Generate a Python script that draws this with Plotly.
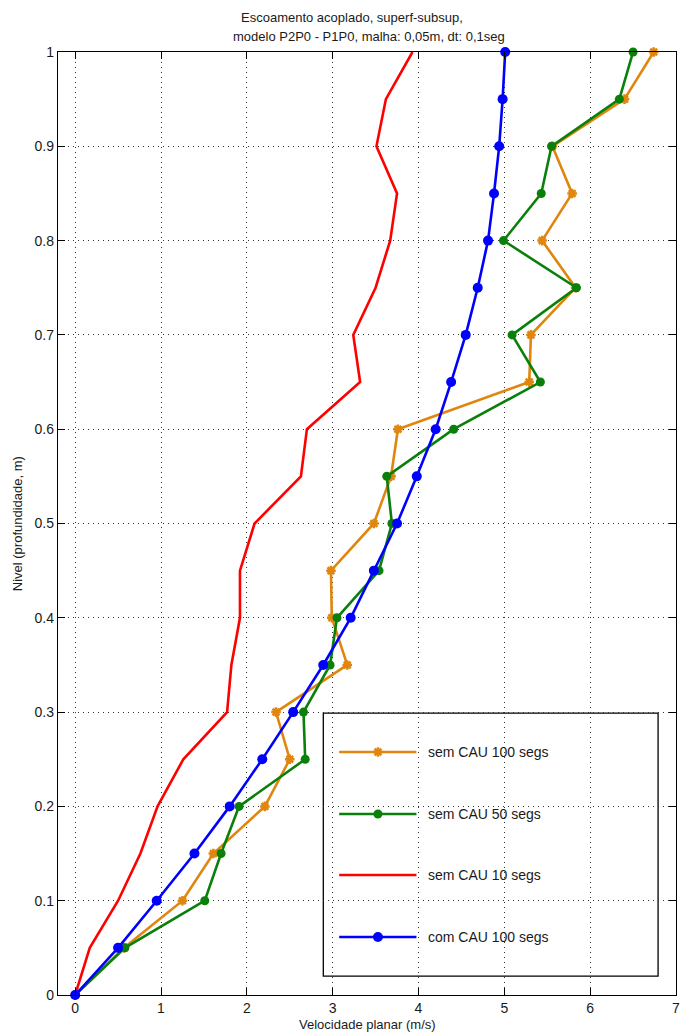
import plotly.graph_objects as go

# Depth levels (m)
nivel = [0.00, 0.05, 0.10, 0.15, 0.20, 0.25, 0.30, 0.35, 0.40, 0.45, 0.50,
         0.55, 0.60, 0.65, 0.70, 0.75, 0.80, 0.85, 0.90, 0.95, 1.00]

# Planar velocity (m/s) for each run
sem_cau_100 = [0.00, 0.57, 1.25, 1.61, 2.21, 2.50, 2.34, 3.17, 2.99, 2.98, 3.48,
               3.68, 3.76, 5.29, 5.31, 5.83, 5.44, 5.79, 5.56, 6.40, 6.74]
sem_cau_50 = [0.00, 0.58, 1.51, 1.70, 1.91, 2.68, 2.66, 2.97, 3.05, 3.54, 3.69,
              3.63, 4.41, 5.42, 5.09, 5.84, 4.99, 5.43, 5.55, 6.34, 6.50]
sem_cau_10 = [0.00, 0.17, 0.50, 0.76, 0.96, 1.26, 1.77, 1.82, 1.92, 1.92, 2.09,
              2.63, 2.70, 3.32, 3.24, 3.50, 3.67, 3.75, 3.51, 3.62, 3.93]
com_cau_100 = [0.00, 0.50, 0.95, 1.39, 1.80, 2.18, 2.54, 2.89, 3.21, 3.48, 3.75,
               3.98, 4.20, 4.38, 4.55, 4.69, 4.81, 4.88, 4.94, 4.98, 5.01]

series_names = ["sem CAU 100 segs", "sem CAU 50 segs", "sem CAU 10 segs", "com CAU 100 segs"]
series_values = [sem_cau_100, sem_cau_50, sem_cau_10, com_cau_100]

ORANGE = "#E0860F"
GREEN = "#0A800A"
RED = "#FF0000"
BLUE = "#0000FF"
colors = [ORANGE, GREEN, RED, BLUE]
markers = [
    dict(symbol="asterisk-open", size=8, color=ORANGE, line=dict(color=ORANGE, width=2.5)),
    dict(symbol="circle", size=9, color=GREEN, line=dict(color=GREEN, width=0)),
    None,
    dict(symbol="circle", size=10, color=BLUE, line=dict(color=BLUE, width=0)),
]

FONT = "Liberation Sans, Arial, Helvetica, sans-serif"
TXT = "#1a1a1a"

fig = go.Figure()

for name, vals, col, mk in zip(series_names, series_values, colors, markers):
    fig.add_trace(go.Scatter(
        x=vals, y=nivel, name=name,
        mode="lines+markers" if mk else "lines",
        line=dict(color=col, width=2.6),
        marker=mk if mk else None,
        showlegend=False, cliponaxis=False,
    ))

# Hand-drawn legend box (overlay axis spanning the plot area, range 0..1)
box_x0, box_x1 = 0.4293, 0.971
box_y0, box_y1 = 0.0201, 0.299
entry_y = [0.2577, 0.1919, 0.1273, 0.0615]
sample_x = [0.455, 0.580]
marker_x = 0.5177
text_x = 0.595

shapes = [dict(type="rect", xref="paper", yref="paper",
               x0=box_x0, x1=box_x1, y0=box_y0, y1=box_y1,
               line=dict(color="black", width=1.3), fillcolor="white", layer="between")]
fig.update_layout(shapes=shapes)

for name, col, mk, ey in zip(series_names, colors, markers, entry_y):
    fig.add_trace(go.Scatter(
        x=sample_x, y=[ey, ey], mode="lines",
        line=dict(color=col, width=2.6), xaxis="x2", yaxis="y2",
        showlegend=False, hoverinfo="skip",
    ))
    if mk:
        fig.add_trace(go.Scatter(
            x=[marker_x], y=[ey], mode="markers", marker=mk,
            xaxis="x2", yaxis="y2", showlegend=False, hoverinfo="skip",
        ))

annotations = []
for name, ey in zip(series_names, entry_y):
    annotations.append(dict(x=text_x, y=ey, xref="x2", yref="y2", text=name,
                            showarrow=False, xanchor="left", yanchor="middle",
                            font=dict(family=FONT, size=14, color=TXT)))

# Two-line title
annotations.append(dict(x=0.476, y=1.0365, xref="paper", yref="paper",
                        text="Escoamento acoplado, superf-subsup,", showarrow=False,
                        xanchor="center", yanchor="middle",
                        font=dict(family=FONT, size=13, color=TXT)))
annotations.append(dict(x=0.503, y=1.0165, xref="paper", yref="paper",
                        text="modelo P2P0 - P1P0, malha: 0,05m, dt: 0,1seg", showarrow=False,
                        xanchor="center", yanchor="middle",
                        font=dict(family=FONT, size=13, color=TXT)))
# Axis titles
annotations.append(dict(x=0.5, y=-0.0318, xref="paper", yref="paper",
                        text="Velocidade planar (m/s)", showarrow=False,
                        xanchor="center", yanchor="middle",
                        font=dict(family=FONT, size=13, color=TXT)))
annotations.append(dict(x=-0.0643, y=0.4995, xref="paper", yref="paper",
                        text="Nivel (profundidade, m)", showarrow=False, textangle=-90,
                        xanchor="center", yanchor="middle",
                        font=dict(family=FONT, size=13, color=TXT)))

x_ticks = [0, 1, 2, 3, 4, 5, 6, 7]
y_ticks = [0, 0.1, 0.2, 0.3, 0.4, 0.5, 0.6, 0.7, 0.8, 0.9, 1]
y_labels = ["0", "0.1", "0.2", "0.3", "0.4", "0.5", "0.6", "0.7", "0.8", "0.9", "1"]

axis_common = dict(showline=True, linecolor="black", linewidth=1.3, mirror="ticks",
                   ticks="inside", ticklen=7, tickcolor="black", tickwidth=1,
                   showgrid=True, gridcolor="#333", griddash="1px,4px", gridwidth=1,
                   zeroline=False, tickfont=dict(size=14, color=TXT))

fig.update_layout(
    width=685, height=1036,
    margin=dict(l=58, r=5, t=52, b=41),
    paper_bgcolor="white", plot_bgcolor="white",
    font=dict(family=FONT, size=14, color=TXT),
    annotations=annotations,
    xaxis=dict(range=[-0.2, 7], tickvals=x_ticks, ticktext=[str(v) for v in x_ticks],
               **axis_common),
    yaxis=dict(range=[0, 1], tickvals=y_ticks, ticktext=y_labels, **axis_common),
    xaxis2=dict(overlaying="x", range=[0, 1], visible=False, fixedrange=True),
    yaxis2=dict(overlaying="y", range=[0, 1], visible=False, fixedrange=True),
)

fig.write_html("out.html")
